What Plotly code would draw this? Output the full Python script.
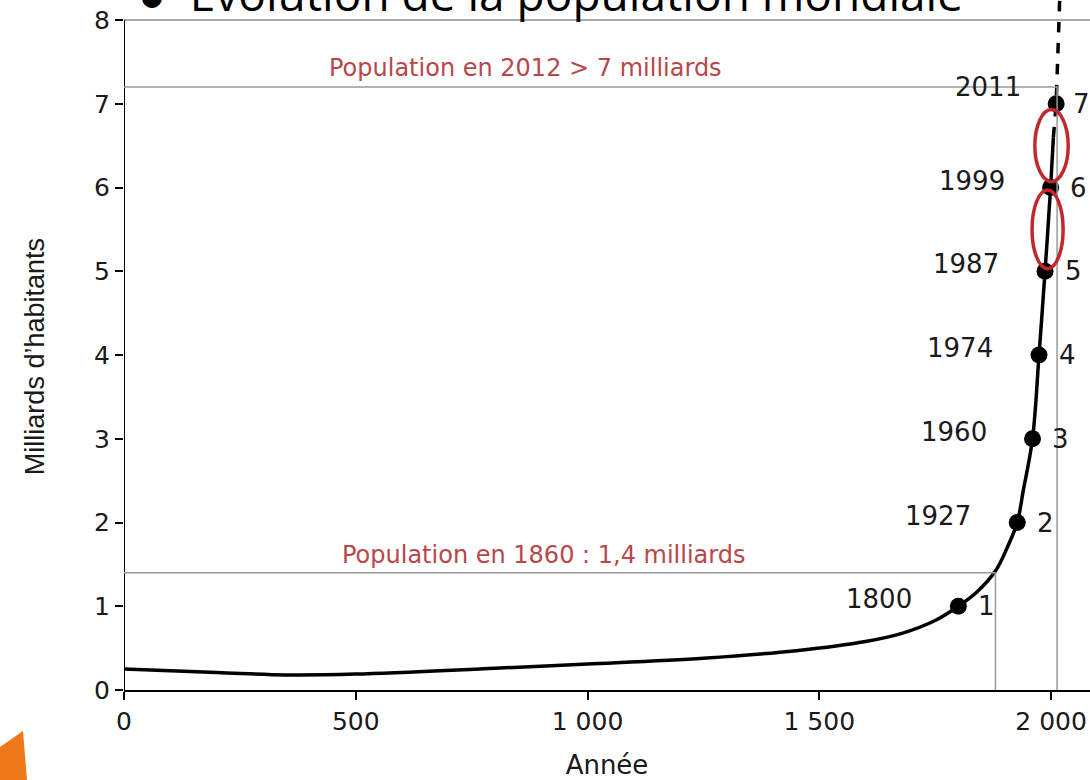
import plotly.graph_objects as go

# ---- data ----
curve_years = [0, 200, 350, 500, 800, 1000, 1250, 1450, 1600, 1680, 1750,
               1800, 1840, 1880, 1907, 1927, 1940, 1960, 1974, 1987, 1999, 2005]
curve_pop = [0.25, 0.21, 0.18, 0.19, 0.26, 0.31, 0.38, 0.47, 0.58, 0.68, 0.83,
             1.0, 1.17, 1.42, 1.72, 2.0, 2.38, 3.0, 4.0, 5.0, 6.0, 6.6]
proj_years = [2005, 2011, 2019]
proj_pop = [6.6, 7.0, 8.3]
milestone_years = [1800, 1927, 1960, 1974, 1987, 1999, 2011]
milestone_pop = [1, 2, 3, 4, 5, 6, 7]
x_tick_vals = [0, 500, 1000, 1500, 2000]
x_tick_text = ["0", "500", "1 000", "1 500", "2 000"]
y_tick_vals = [0, 1, 2, 3, 4, 5, 6, 7, 8]
ref_2012 = (2013, 7.2)
ref_1860 = (1880, 1.4)

PX_PER_UNIT = 83.75
Y_TOP = 690 / PX_PER_UNIT

fig = go.Figure()

fig.add_trace(go.Scatter(x=curve_years, y=curve_pop, mode="lines",
                         line=dict(color="black", width=3.5, shape="spline", smoothing=1.0),
                         hoverinfo="skip", showlegend=False))
fig.add_trace(go.Scatter(x=proj_years, y=proj_pop, mode="lines",
                         line=dict(color="black", width=3.5, dash="dash"),
                         hoverinfo="skip", showlegend=False))
fig.add_trace(go.Scatter(x=milestone_years, y=milestone_pop, mode="markers",
                         marker=dict(color="black", size=17),
                         hoverinfo="skip", showlegend=False))

num_font = dict(family="DejaVu Sans, Liberation Sans, Arial", size=26, color="#1a1a1a")
for i, (yr, p) in enumerate(zip(milestone_years, milestone_pop)):
    last = i == len(milestone_years) - 1
    fig.add_annotation(x=yr, y=p, text=str(yr), showarrow=False, xanchor="right",
                       xshift=-33 if last else -44, yshift=17 if last else 7,
                       font=num_font)
    fig.add_annotation(x=yr, y=p, text=str(p), showarrow=False, xanchor="center",
                       xshift=25 if last else 28, yshift=0, font=num_font)

gray = "#9a9a9a"
shapes = [
    dict(type="line", xref="paper", yref="y", x0=0, x1=1, y0=8, y1=8,
         line=dict(color="#a8a8a8", width=2)),
    dict(type="line", xref="x", yref="y", x0=0, x1=0, y0=0, y1=8,
         line=dict(color="black", width=2)),
    dict(type="line", xref="x", yref="y", x0=0, x1=ref_2012[0] + 2, y0=ref_2012[1], y1=ref_2012[1],
         line=dict(color=gray, width=1.5)),
    dict(type="line", xref="x", yref="y", x0=ref_2012[0], x1=ref_2012[0], y0=0, y1=ref_2012[1],
         line=dict(color=gray, width=1.5)),
    dict(type="line", xref="x", yref="y", x0=0, x1=ref_1860[0], y0=ref_1860[1], y1=ref_1860[1],
         line=dict(color=gray, width=1.5)),
    dict(type="line", xref="x", yref="y", x0=ref_1860[0], x1=ref_1860[0], y0=0, y1=ref_1860[1],
         line=dict(color=gray, width=1.5)),
    dict(type="circle", xref="x", yref="y", x0=1965, x1=2037, y0=6.07, y1=6.93,
         line=dict(color="#c0282d", width=3.5)),
    dict(type="circle", xref="x", yref="y", x0=1959, x1=2026, y0=5.03, y1=5.97,
         line=dict(color="#c0282d", width=3.5)),
    dict(type="path", xref="paper", yref="paper",
         path="M -0.1284 -0.0826 L -0.1046 -0.0594 L -0.1004 -0.1304 L -0.1284 -0.1304 Z",
         fillcolor="#f07818", line=dict(width=0)),
]

red_font = dict(family="DejaVu Sans, Open Sans, Arial", size=24, color="#b8474b")
fig.add_annotation(x=867, y=7.43, text="Population en 2012 &gt; 7 milliards",
                   showarrow=False, font=red_font)
fig.add_annotation(x=906, y=1.61, text="Population en 1860 : 1,4 milliards",
                   showarrow=False, font=red_font)

# title, cut off at top
fig.add_annotation(xref="paper", yref="paper", x=0.012, y=(690 - 26) / 690,
                   xanchor="left", yanchor="bottom",
                   text="●  Évolution de la population mondiale", showarrow=False,
                   font=dict(family="Open Sans, Liberation Sans, Arial", size=46, color="black"))

# y-axis title
fig.add_annotation(xref="paper", yref="paper", x=-0.092, y=(690 - 357) / 690,
                   xanchor="center", yanchor="middle", textangle=-90,
                   text="Milliards d’habitants", showarrow=False,
                   font=dict(family="Liberation Sans, Arial", size=27, color="#1a1a1a"))

fig.update_layout(
    width=1090, height=780,
    margin=dict(l=124, r=0, t=0, b=90),
    paper_bgcolor="white", plot_bgcolor="white",
    shapes=shapes,
    xaxis=dict(range=[0, 2084], tickvals=x_tick_vals, ticktext=x_tick_text,
               showgrid=False, zeroline=False, showline=True, linecolor="black", linewidth=2,
               ticks="outside", ticklen=8, tickwidth=2, tickcolor="black",
               tickfont=dict(family="DejaVu Sans, Liberation Sans, Arial", size=25, color="#1a1a1a"),
               title=dict(text="Année", standoff=23,
                          font=dict(family="DejaVu Sans, Liberation Sans, Arial", size=26, color="#1a1a1a"))),
    yaxis=dict(range=[0, Y_TOP], tickvals=y_tick_vals,
               showgrid=False, zeroline=False, showline=False,
               ticks="outside", ticklen=8, tickwidth=2, tickcolor="black",
               tickfont=dict(family="DejaVu Sans, Liberation Sans, Arial", size=25, color="#1a1a1a")),
)

fig.write_html("out.html")
